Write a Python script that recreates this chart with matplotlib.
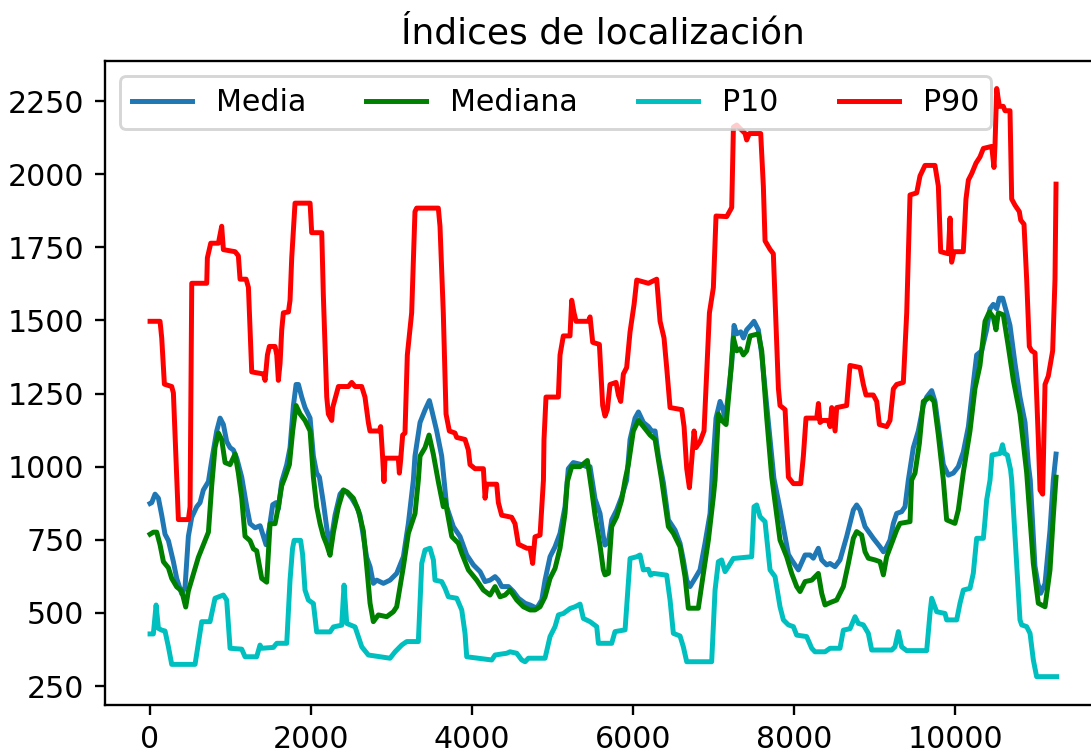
import matplotlib
matplotlib.use("Agg")
import matplotlib.pyplot as plt

plt.rcParams['font.size'] = 10.3
plt.rcParams['lines.linewidth'] = 1.7

# Media
media_x = [0, 21, 62, 104, 145, 186, 228, 290, 331, 393, 435, 476, 518, 580, 621, 662, 725, 766, 828, 870,
           911, 952, 994, 1035, 1077, 1139, 1201, 1242, 1304, 1367, 1416, 1441, 1482, 1524, 1565, 1594, 1636,
           1698, 1739, 1781, 1814, 1843, 1884, 1925, 1988, 2029, 2070, 2104, 2153, 2195, 2228, 2257, 2298,
           2360, 2402, 2443, 2505, 2567, 2608, 2650, 2691, 2733, 2774, 2816, 2899, 2981, 3064, 3147, 3209,
           3271, 3291, 3354, 3416, 3470, 3499, 3561, 3623, 3685, 3768, 3851, 3934, 4017, 4100, 4162, 4224,
           4286, 4327, 4369, 4452, 4514, 4576, 4659, 4721, 4804, 4866, 4907, 4969, 5031, 5093, 5155, 5196,
           5258, 5362, 5424, 5466, 5528, 5590, 5631, 5652, 5694, 5735, 5797, 5859, 5921, 5963, 6025, 6067,
           6129, 6191, 6232, 6274, 6315, 6377, 6439, 6522, 6584, 6625, 6667, 6708, 6770, 6832, 6894, 6957,
           6990, 7031, 7081, 7122, 7143, 7185, 7226, 7255, 7288, 7338, 7371, 7412, 7462, 7503, 7557, 7599,
           7640, 7702, 7750, 7826, 7889, 7930, 7971, 8054, 8137, 8199, 8240, 8302, 8344, 8406, 8447, 8509,
           8571, 8654, 8737, 8778, 8820, 8882, 8985, 9068, 9110, 9151, 9192, 9234, 9275, 9337, 9379, 9420,
           9482, 9544, 9606, 9648, 9710, 9751, 9793, 9855, 9917, 9979, 10041, 10103, 10166, 10207, 10269,
           10331, 10393, 10435, 10476, 10518, 10551, 10592, 10642, 10683, 10745, 10807, 10870, 10911, 10935,
           10965, 10993, 11030, 11064, 11118, 11180, 11221, 11255]
media_y = [874, 877, 906, 892, 834, 769, 747, 675, 618, 565, 589, 762, 827, 863, 877, 920, 949, 1021, 1122, 1166,
           1144, 1086, 1065, 1057, 1029, 964, 863, 805, 791, 798, 755, 733, 791, 870, 877, 856, 949,
           1007, 1065, 1209, 1281, 1281, 1238, 1202, 1166, 1036, 978, 964, 877, 791, 733, 762, 834,
           906, 920, 913, 892, 863, 834, 762, 690, 658, 601, 612, 601, 612, 635, 692, 806,
           954, 1036, 1151, 1194, 1226, 1194, 1122, 1036, 863, 795, 761, 698, 664, 641, 607, 612,
           624, 612, 590, 590, 573, 550, 533, 527, 516, 544, 612, 692, 726, 772, 863, 993,
           1014, 1007, 1000, 1000, 890, 840, 761, 732, 743, 818, 852, 897, 954, 1093, 1166, 1187,
           1151, 1137, 1122, 1122, 1036, 945, 818, 783, 738, 681, 612, 590, 618, 647, 738, 840,
           1000, 1166, 1223, 1194, 1151, 1252, 1353, 1483, 1454, 1461, 1440, 1468, 1483, 1497, 1468, 1382,
           1267, 1093, 960, 855, 762, 700, 681, 647, 698, 698, 687, 721, 681, 664, 669, 658,
           681, 761, 852, 869, 852, 795, 755, 726, 709, 726, 749, 806, 840, 846, 863, 954,
           1065, 1122, 1209, 1238, 1260, 1223, 1137, 1007, 971, 978, 1000, 1050, 1137, 1238, 1382,
           1396, 1468, 1540, 1555, 1540, 1576, 1576, 1526, 1483, 1353, 1238, 1151, 1007, 954,
           805, 660, 600, 567, 600, 783, 954, 1043]

# Mediana
mediana_x = [0, 41, 83, 124, 166, 228, 269, 331, 393, 443, 476, 538, 600, 662, 725, 766, 807, 849, 890, 932,
             994, 1056, 1097, 1139, 1180, 1242, 1284, 1325, 1387, 1449, 1491, 1553, 1594, 1636, 1677, 1731,
             1772, 1814, 1864, 1925, 1988, 2029, 2070, 2112, 2153, 2195, 2236, 2278, 2340, 2402, 2452, 2526,
             2588, 2650, 2691, 2733, 2774, 2836, 2940, 3023, 3064, 3147, 3209, 3292, 3333, 3354, 3416, 3466,
             3519, 3581, 3643, 3665, 3748, 3830, 3872, 3955, 4058, 4141, 4224, 4286, 4348, 4410, 4472, 4555,
             4638, 4721, 4783, 4845, 4907, 4969, 5031, 5093, 5155, 5184, 5238, 5341, 5433, 5486, 5528, 5590,
             5631, 5652, 5694, 5735, 5797, 5859, 5901, 5942, 6004, 6067, 6129, 6212, 6274, 6356, 6439, 6501,
             6584, 6646, 6687, 6811, 6874, 6936, 6998, 7019, 7060, 7102, 7156, 7197, 7247, 7288, 7330, 7371,
             7412, 7454, 7557, 7599, 7661, 7723, 7826, 7909, 7971, 8033, 8075, 8137, 8220, 8302, 8344, 8385,
             8447, 8530, 8613, 8675, 8737, 8778, 8840, 8882, 8923, 9006, 9068, 9110, 9151, 9213, 9275, 9316,
             9441, 9461, 9503, 9557, 9606, 9689, 9739, 9793, 9855, 9896, 9999, 10041, 10103, 10186, 10248,
             10310, 10373, 10426, 10476, 10509, 10538, 10600, 10662, 10725, 10807, 10890, 10973, 11035,
             11118, 11180, 11222, 11255]
mediana_y = [769, 776, 776, 733, 675, 654, 618, 589, 575, 520, 575, 632, 690, 733, 776, 935, 1065, 1115, 1093, 1014,
             1007, 1043, 978, 892, 762, 747, 719, 712, 618, 605, 805, 805, 863, 935, 964, 1007,
             1122, 1209, 1180, 1158, 1122, 964, 863, 805, 762, 733, 697, 776, 863, 920, 913, 892,
             850, 780, 661, 533, 470, 493, 487, 504, 521, 658, 772, 840, 954, 1036, 1065, 1108,
             1043, 949, 863, 886, 761, 738, 704, 647, 612, 578, 561, 590, 555, 561, 578, 544,
             521, 510, 510, 521, 555, 618, 652, 721, 840, 949, 1000, 1000, 1021, 920, 834, 730,
             647, 630, 635, 795, 829, 886, 954, 1007, 1122, 1158, 1137, 1108, 1093, 954, 795, 772,
             726, 624, 516, 516, 635, 749, 897, 954, 1180, 1158, 1144, 1267, 1440, 1396, 1403, 1382,
             1396, 1447, 1454, 1396, 1166, 965, 749, 692, 635, 590, 573, 607, 612, 635, 567, 527,
             535, 544, 590, 669, 755, 778, 766, 709, 687, 681, 675, 630, 692, 738, 783, 806,
             812, 954, 978, 1079, 1223, 1238, 1223, 1108, 954, 818, 806, 852, 980, 1122, 1267,
             1346, 1497, 1529, 1511, 1468, 1526, 1519, 1411, 1295, 1180, 980, 669, 533,
             521, 647, 834, 964]

# P10
p10_x = [0, 41, 75, 104, 145, 186, 228, 269, 559, 642, 745, 807, 911, 952, 994, 1139, 1180, 1325, 1366, 1387,
         1532, 1574, 1698, 1739, 1770, 1790, 1870, 1895, 1925, 1967, 2029, 2070, 2236, 2278, 2381, 2410,
         2443, 2547, 2630, 2712, 2981, 3044, 3126, 3189, 3333, 3375, 3416, 3478, 3520, 3540, 3623, 3665,
         3706, 3810, 3872, 3913, 3934, 4245, 4286, 4431, 4472, 4555, 4617, 4659, 4700, 4907, 4969, 5031,
         5073, 5135, 5218, 5280, 5342, 5383, 5466, 5549, 5570, 5735, 5776, 5901, 5963, 6046, 6087, 6128,
         6190, 6219, 6253, 6418, 6460, 6501, 6584, 6625, 6667, 6977, 7019, 7060, 7101, 7143, 7184, 7246,
         7474, 7503, 7536, 7578, 7640, 7702, 7764, 7826, 7868, 7930, 7992, 8033, 8157, 8220, 8261, 8385,
         8447, 8571, 8613, 8696, 8758, 8799, 8861, 8923, 8965, 9213, 9254, 9296, 9337, 9399, 9648, 9689,
         9710, 9772, 9876, 9896, 10021, 10062, 10103, 10186, 10227, 10269, 10352, 10373, 10393, 10435,
         10460, 10560, 10590, 10615, 10650, 10690, 10704, 10766, 10807, 10828, 10890, 10932, 10973,
         11014, 11263]
p10_y = [428, 428, 527, 447, 441, 438, 384, 324, 324, 470, 470, 550, 561, 544, 379, 376, 350, 350, 390, 379,
         382, 396, 396, 612, 720, 748, 748, 700, 578, 544, 532, 435, 435, 452, 458, 595,
         464, 452, 384, 356, 345, 367, 390, 402, 402, 669, 715, 721, 681, 612, 607, 584,
         555, 550, 510, 430, 350, 339, 356, 362, 367, 362, 339, 333, 345, 345, 419, 453,
         493, 498, 515, 521, 530, 481, 470, 453, 396, 396, 436, 442, 686, 692, 698, 647,
         649, 629, 635, 629, 544, 430, 421, 384, 333, 333, 578, 675, 681, 641, 658, 686,
         692, 863, 869, 829, 812, 647, 624, 521, 476, 459, 453, 424, 419, 379, 367, 367,
         379, 379, 441, 446, 487, 464, 459, 430, 373, 373, 384, 436, 384, 371, 371, 498,
         550, 504, 498, 476, 476, 533, 578, 584, 635, 755, 755, 818, 886, 954,
         1040, 1045, 1075, 1045, 1040, 990, 954, 669, 476, 459, 453, 430, 339,
         282, 282]

# P90
p90_x = [0, 124, 145, 178, 269, 290, 352, 476, 497, 518, 704, 712, 754, 849, 890, 911, 1056, 1097, 1118, 1193,
         1222, 1263, 1408, 1429, 1458, 1482, 1553, 1574, 1594, 1615, 1636, 1656, 1719, 1739, 1760, 1801,
         1988, 2008, 2133, 2153, 2195, 2215, 2257, 2269, 2319, 2340, 2464, 2505, 2547, 2629, 2670, 2712,
         2732, 2848, 2865, 2890, 2906, 2919, 3084, 3097, 3113, 3138, 3167, 3196, 3229, 3250, 3291, 3312,
         3581, 3602, 3643, 3677, 3718, 3788, 3809, 3913, 3954, 3975, 4037, 4141, 4162, 4182, 4306, 4327,
         4368, 4492, 4534, 4575, 4680, 4721, 4753, 4782, 4845, 4887, 4894, 4919, 5072, 5093, 5134, 5217,
         5238, 5267, 5292, 5445, 5466, 5499, 5582, 5623, 5652, 5681, 5714, 5789, 5818, 5847, 5880, 5921,
         5963, 6013, 6046, 6191, 6294, 6336, 6385, 6418, 6460, 6605, 6634, 6667, 6700, 6729, 6758, 6783,
         6833, 6882, 6916, 6949, 6998, 7031, 7164, 7226, 7247, 7288, 7392, 7412, 7445, 7586, 7619, 7640,
         7702, 7743, 7806, 7826, 7889, 7930, 7992, 8083, 8116, 8149, 8282, 8303, 8323, 8356, 8427, 8448,
         8468, 8510, 8530, 8654, 8695, 8820, 8861, 8894, 8985, 9027, 9060, 9151, 9192, 9234, 9275, 9358,
         9400, 9441, 9524, 9565, 9627, 9751, 9793, 9822, 9917, 9938, 9958, 9987, 10103, 10136, 10166,
         10207, 10261, 10310, 10352, 10456, 10484, 10497, 10518, 10551, 10600, 10621, 10683, 10704,
         10745, 10799, 10816, 10857, 10890, 10923, 10952, 10994, 11035, 11056, 11089, 11118, 11159,
         11213, 11242, 11255]
p90_y = [1497, 1497, 1440, 1282, 1274, 1252, 819, 819, 863, 1627, 1627, 1714, 1764, 1764, 1822, 1742, 1735, 1721, 1641, 1641,
         1613, 1324, 1317, 1295, 1382, 1411, 1411, 1382, 1295, 1353, 1468, 1526, 1529, 1569, 1714, 1901,
         1901, 1800, 1800, 1584, 1238, 1180, 1158, 1202, 1252, 1274, 1274, 1288, 1274, 1274, 1238, 1151,
         1122, 1122, 1137, 1029, 949, 1029, 1029, 978, 1022, 1108, 1115, 1382, 1468, 1526, 1872, 1884,
         1884, 1822, 1526, 1180, 1122, 1115, 1100, 1093, 1057, 1007, 993, 993, 892, 940, 940, 877,
         834, 827, 805, 735, 721, 721, 669, 760, 766, 954, 1093, 1238, 1238, 1382, 1447, 1447,
         1569, 1526, 1497, 1497, 1512, 1425, 1418, 1209, 1173, 1195, 1281, 1288, 1245, 1223, 1317, 1339,
         1461, 1555, 1638, 1627, 1641, 1497, 1440, 1339, 1202, 1195, 1137, 993, 928, 1021, 1122, 1065,
         1086, 1122, 1324, 1526, 1612, 1857, 1855, 1886, 2161, 2168, 2139, 2117, 2139, 2139, 1959, 1772,
         1743, 1728, 1267, 1209, 1195, 964, 942, 942, 1036, 1166, 1166, 1216, 1151, 1158, 1158, 1137,
         1202, 1122, 1202, 1209, 1346, 1339, 1281, 1245, 1245, 1223, 1144, 1137, 1158, 1266, 1281, 1288,
         1526, 1929, 1936, 1994, 2030, 2030, 1959, 1735, 1728, 1850, 1699, 1735, 1735, 1915, 1980,
         2002, 2038, 2059, 2088, 2095, 2023, 2102, 2293, 2232, 2232, 2217, 2217, 1915,
         1894, 1872, 1843, 1829, 1641, 1411, 1396, 1389, 1093, 920, 906, 1281, 1310,
         1396, 1641, 1966]

fig = plt.figure(figsize=(1091 / 210, 755 / 210), dpi=210)
ax = fig.add_axes([0.096, 0.0662, 0.9132, 0.853])

ax.plot(media_x, media_y, color='tab:blue', label='Media')
ax.plot(mediana_x, mediana_y, color='g', label='Mediana')
ax.plot(p10_x, p10_y, color='c', label='P10')
ax.plot(p90_x, p90_y, color='r', label='P90')

ax.set_xlim(-563, 11814)
ax.set_ylim(185, 2387)
ax.set_title('Índices de localización')
ax.legend(loc='upper left', ncol=4)

fig.savefig('out.png', dpi=210)
